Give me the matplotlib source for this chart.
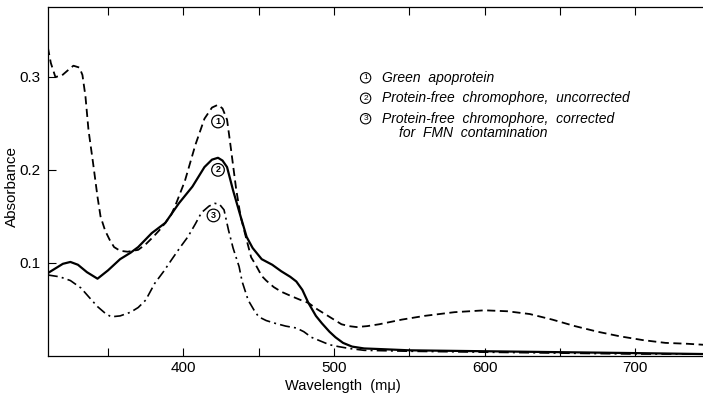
import matplotlib.pyplot as plt
from matplotlib.ticker import MultipleLocator

# Curve 1: green apoprotein (dashed)
wl_apo = [310, 312, 315, 319, 324, 327, 331, 333, 335, 337, 340, 343, 345, 348,
          351, 354, 358, 363, 370, 375, 380, 384, 388, 392, 395, 401, 408, 414,
          419, 423, 426, 429, 431, 433, 435, 438, 441, 445, 448, 452, 455, 460,
          465, 472, 478, 483, 489, 495, 500, 505, 510, 515, 522, 530, 545, 560,
          580, 600, 615, 630, 645, 660, 675, 690, 705, 720, 735, 745]
abs_apo = [0.332, 0.315, 0.300, 0.301, 0.308, 0.312, 0.310, 0.302, 0.279, 0.243,
           0.208, 0.171, 0.150, 0.135, 0.125, 0.117, 0.113, 0.112, 0.114, 0.120,
           0.128, 0.135, 0.143, 0.152, 0.163, 0.188, 0.227, 0.255, 0.267, 0.270,
           0.266, 0.254, 0.230, 0.205, 0.180, 0.150, 0.131, 0.106, 0.098, 0.086,
           0.081, 0.074, 0.069, 0.064, 0.060, 0.057, 0.050, 0.044, 0.039, 0.034,
           0.032, 0.031, 0.032, 0.034, 0.039, 0.043, 0.047, 0.049, 0.048, 0.045,
           0.039, 0.032, 0.026, 0.021, 0.017, 0.014, 0.013, 0.012]

# Curve 2: protein-free chromophore, uncorrected (solid)
wl_unc = [310, 315, 320, 325, 330, 336, 343, 350, 358, 365, 370, 379, 388, 397,
          406, 414, 419, 423, 426, 429, 433, 438, 442, 446, 452, 459, 465, 471,
          475, 479, 483, 488, 492, 497, 501, 506, 512, 520, 528, 550, 600, 650,
          700, 745]
abs_unc = [0.089, 0.094, 0.099, 0.101, 0.098, 0.090, 0.083, 0.092, 0.104, 0.111,
           0.117, 0.132, 0.143, 0.164, 0.182, 0.203, 0.211, 0.213, 0.210, 0.203,
           0.178, 0.150, 0.128, 0.116, 0.104, 0.098, 0.091, 0.085, 0.080, 0.071,
           0.057, 0.043, 0.035, 0.026, 0.020, 0.014, 0.010, 0.008, 0.0075, 0.006,
           0.005, 0.004, 0.003, 0.002]

# Curve 3: protein-free chromophore, corrected for FMN (dash-dot)
wl_cor = [310, 318, 325, 332, 338, 343, 348, 352, 358, 365, 370, 375, 381, 387,
          392, 398, 403, 408, 412, 417, 421, 424, 427, 430, 433, 435, 437, 439,
          443, 447, 450, 455, 461, 468, 475, 480, 485, 491, 497, 503, 510, 520,
          550, 600, 650, 700, 745]
abs_cor = [0.087, 0.085, 0.081, 0.073, 0.062, 0.053, 0.046, 0.042, 0.043, 0.047,
           0.052, 0.060, 0.078, 0.091, 0.103, 0.117, 0.128, 0.142, 0.154, 0.161,
           0.164, 0.163, 0.157, 0.135, 0.116, 0.106, 0.096, 0.080, 0.060, 0.049,
           0.042, 0.038, 0.035, 0.032, 0.030, 0.026, 0.020, 0.016, 0.012, 0.010,
           0.008, 0.006, 0.005, 0.004, 0.003, 0.002, 0.002]

y_ticks = [0.1, 0.2, 0.3]
y_tick_labels = ["0.1", "0.2", "0.3"]
x_ticks = [400, 500, 600, 700]

legend_lines = ["Green  apoprotein",
                "Protein-free  chromophore,  uncorrected",
                "Protein-free  chromophore,  corrected"]

plt.rcParams['font.family'] = ['Liberation Sans', 'DejaVu Sans']

fig = plt.figure(figsize=(7.03, 3.95), dpi=100)
ax = fig.add_axes([0.068, 0.099, 0.932, 0.883])

ax.plot(wl_apo, abs_apo, color='black', lw=1.3, linestyle=(0, (4.5, 2.5)))
ax.plot(wl_unc, abs_unc, color='black', lw=1.6, linestyle='-')
ax.plot(wl_cor, abs_cor, color='black', lw=1.2, linestyle=(0, (6, 2.5, 1.2, 2.5)))

ax.set_xlim(310, 745)
ax.set_ylim(0, 0.375)

ax.set_xticks(x_ticks)
ax.xaxis.set_minor_locator(MultipleLocator(50))
ax.set_yticks(y_ticks)
ax.set_yticklabels(y_tick_labels)
ax.tick_params(axis='both', which='both', direction='in', top=True,
               labelsize=11, length=6, width=0.8)
ax.tick_params(axis='y', pad=5)
ax.tick_params(axis='x', pad=4)

ax.spines['right'].set_visible(False)
for s in ['left', 'bottom', 'top']:
    ax.spines[s].set_linewidth(0.9)

ax.set_xlabel("Wavelength  (mμ)", fontsize=10.5)
ax.set_ylabel("Absorbance", fontsize=11)
ax.xaxis.set_label_coords(0.45, -0.066)
ax.yaxis.set_label_coords(-0.044, 0.485)

# circled curve markers
circ = dict(boxstyle='circle,pad=0.2', fc='white', ec='black', lw=0.9)
for num, (xw, ya) in zip(["1", "2", "3"], [(423, 0.252), (423, 0.200), (420, 0.151)]):
    ax.text(xw, ya, num, fontsize=6.5, ha='center', va='center', bbox=circ,
            fontweight='bold')

# legend text
legend_y = [0.299, 0.277, 0.255]
small_circ = dict(boxstyle='circle,pad=0.2', fc='white', ec='black', lw=0.8)
for num, txt, ya in zip(["1", "2", "3"], legend_lines, legend_y):
    ax.text(521, ya, num, fontsize=6, ha='center', va='center', bbox=small_circ)
    ax.text(532, ya, txt, fontsize=10, style='italic', ha='left', va='center')
ax.text(543, 0.240, "for  FMN  contamination", fontsize=10, style='italic',
        ha='left', va='center')

fig.savefig("out.png", dpi=100)
